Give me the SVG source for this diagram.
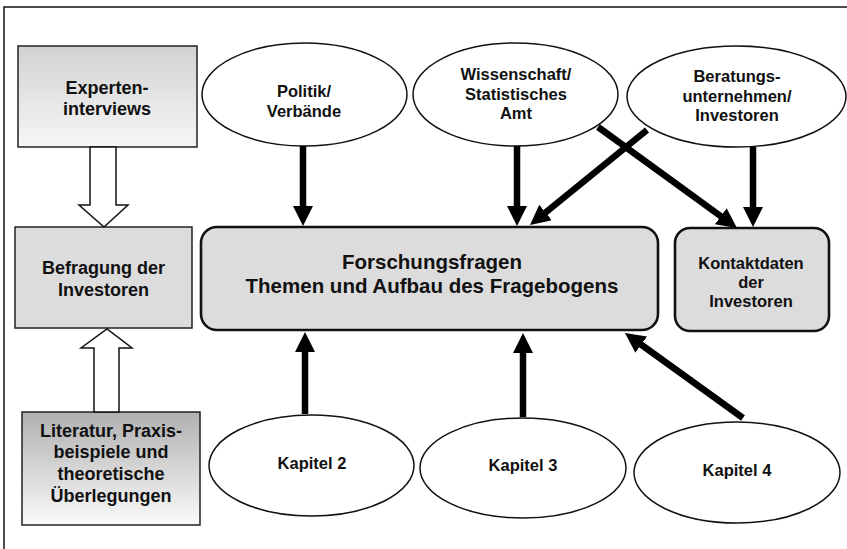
<svg xmlns="http://www.w3.org/2000/svg" width="847" height="549" viewBox="0 0 847 549">
<defs>
<linearGradient id="gExp" x1="0" y1="0" x2="0" y2="1"><stop offset="0" stop-color="#d2d2d2"/><stop offset="1" stop-color="#f6f6f6"/></linearGradient>
<linearGradient id="gLit" x1="0" y1="0" x2="0" y2="1"><stop offset="0" stop-color="#b0b0b0"/><stop offset="1" stop-color="#fafafa"/></linearGradient>
<marker id="ah" markerUnits="userSpaceOnUse" markerWidth="22" markerHeight="22" refX="2" refY="10" orient="auto" viewBox="0 0 22 22"><path d="M0,0 L20,10 L0,20 z" fill="#000"/></marker>
<style>
text{font-family:"Liberation Sans",Arial,sans-serif;font-weight:bold;fill:#111;text-anchor:middle}
.box{stroke:#222;stroke-width:1.5}
.rbox{fill:#dcdcdc;stroke:#111;stroke-width:2.6}
.ell{fill:#fff;stroke:#111;stroke-width:1.5}
.arr{stroke:#000;stroke-width:6.5;fill:none;marker-end:url(#ah)}
.hol{fill:#fff;stroke:#111;stroke-width:1.5}
.m{font-size:16.5px}
.l{font-size:18px}
</style>
</defs>
<path d="M4,549 V7 H847" fill="none" stroke="#111" stroke-width="1.5"/>

<g id="experten"><rect class="box" x="18" y="46" width="179" height="101" fill="url(#gExp)"/>
<text class="l" x="107" y="94">Experten-</text><text class="l" x="107" y="115">interviews</text></g>

<g id="befragung"><rect class="box" x="15" y="227" width="177" height="101" fill="#dcdcdc"/>
<text class="l" x="103.5" y="274">Befragung der</text><text class="l" x="103.5" y="296">Investoren</text></g>

<g id="literatur"><rect class="box" x="22" y="412" width="178" height="113" fill="url(#gLit)"/>
<text class="l" x="111" y="437">Literatur, Praxis-</text><text class="l" x="111" y="458">beispiele und</text><text class="l" x="111" y="480">theoretische</text><text class="l" x="111" y="502">Überlegungen</text></g>

<g id="politik"><ellipse class="ell" cx="304.5" cy="94.5" rx="102.5" ry="51.5"/>
<text class="m" x="304" y="97">Politik/</text><text class="m" x="304" y="117">Verbände</text></g>

<g id="wissenschaft"><ellipse class="ell" cx="515.5" cy="94.5" rx="102.5" ry="51.5"/>
<text class="m" x="516" y="80">Wissenschaft/</text><text class="m" x="516" y="100">Statistisches</text><text class="m" x="516" y="119">Amt</text></g>

<g id="beratung"><ellipse class="ell" cx="736.5" cy="96.5" rx="109.5" ry="50.5"/>
<text class="m" x="737" y="82">Beratungs-</text><text class="m" x="737" y="102">unternehmen/</text><text class="m" x="737" y="121">Investoren</text></g>

<g id="forschung"><rect class="rbox" x="201" y="227" width="457" height="103" rx="16"/>
<text x="432" y="269" font-size="20.5">Forschungsfragen</text><text x="432" y="293" font-size="20.5">Themen und Aufbau des Fragebogens</text></g>

<g id="kontakt"><rect class="rbox" x="675" y="228" width="154" height="103" rx="15"/>
<text class="m" x="751" y="269">Kontaktdaten</text><text class="m" x="751" y="288">der</text><text class="m" x="751" y="307">Investoren</text></g>

<g id="kapitel2"><ellipse class="ell" cx="311.5" cy="465.5" rx="102.5" ry="50.5"/><text class="m" x="312" y="469">Kapitel 2</text></g>
<g id="kapitel3"><ellipse class="ell" cx="523" cy="468" rx="103" ry="50"/><text class="m" x="523" y="471">Kapitel 3</text></g>
<g id="kapitel4"><ellipse class="ell" cx="737" cy="472.5" rx="103" ry="50.5"/><text class="m" x="737" y="476">Kapitel 4</text></g>

<g id="connectors">
<polygon class="hol" points="90,147 116,147 116,205 128,205 104,227 79,205 90,205"/>
<polygon class="hol" points="94,412 119,412 119,348 132,348 107,329 81,348 94,348"/>
<line class="arr" x1="303" y1="146" x2="303" y2="208"/>
<line class="arr" x1="517" y1="146" x2="517" y2="208"/>
<line class="arr" x1="753" y1="147" x2="753" y2="209"/>
<line class="arr" x1="647" y1="130" x2="544" y2="213.7"/>
<line class="arr" x1="598" y1="127" x2="722.4" y2="217.4"/>
<line class="arr" x1="305" y1="414" x2="305" y2="350"/>
<line class="arr" x1="523" y1="417" x2="523" y2="351"/>
<line class="arr" x1="743" y1="418" x2="639.6" y2="343.5"/>
</g>
</svg>
